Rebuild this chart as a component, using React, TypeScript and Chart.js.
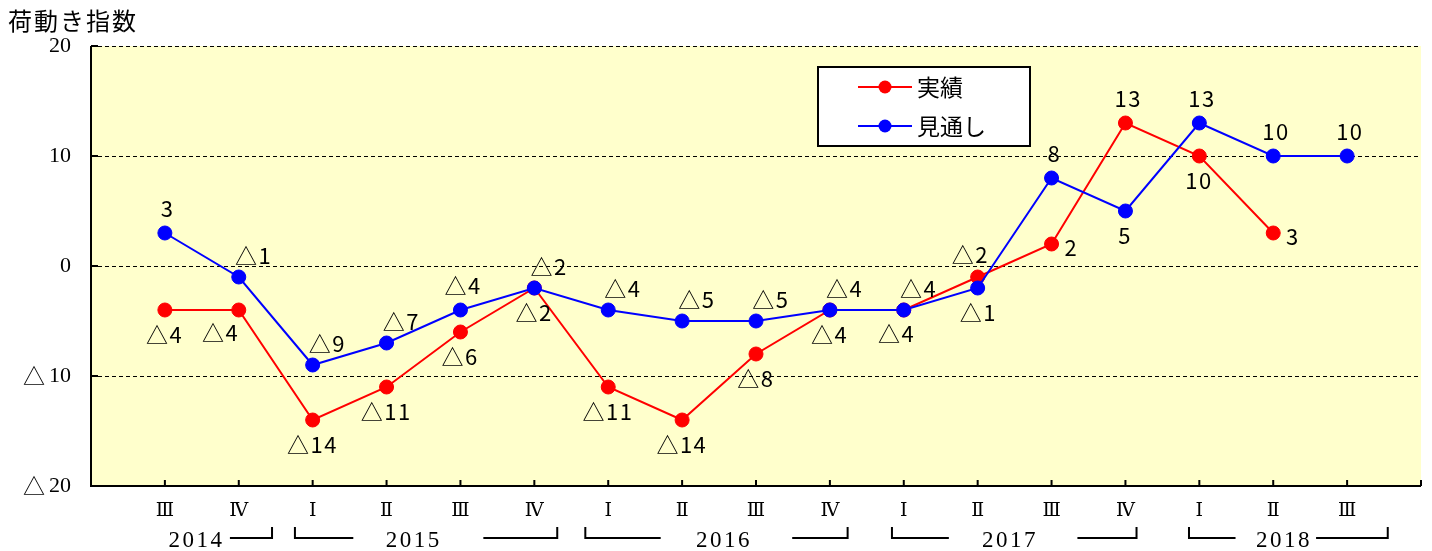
import React, { useEffect, useRef } from 'react';
import { Chart, registerables } from 'chart.js';

Chart.register(...registerables);

// ---- data ----
const title = '荷動き指数';
const categories = ['Ⅲ', 'Ⅳ', 'Ⅰ', 'Ⅱ', 'Ⅲ', 'Ⅳ', 'Ⅰ', 'Ⅱ', 'Ⅲ', 'Ⅳ', 'Ⅰ', 'Ⅱ', 'Ⅲ', 'Ⅳ', 'Ⅰ', 'Ⅱ', 'Ⅲ'];
const years = ['2014', '2015', '2016', '2017', '2018'];
const seriesNames = ['実績', '見通し'];
const actual: (number | null)[] = [-4, -4, -14, -11, -6, -2, -11, -14, -8, -4, -4, -1, 2, 13, 10, 3, null];
const outlook: (number | null)[] = [3, -1, -9, -7, -4, -2, -4, -5, -5, -4, -4, -2, 8, 5, 13, 10, 10];
const yTicks = [-20, -10, 0, 10, 20];

// ---- label placement codes (relative to the point) ----
const actualLabelPos = ['b', 'bl', 'b', 'b', 'b', 'b', 'b', 'b', 'b', 'b', 'bs', 'bb', 'r', 'a', 'b', 'r', ''];
const outlookLabelPos = ['a', 'ar', 'ar', 'ar', 'a', 'ar', 'ar', 'ar', 'ar', 'ar', 'ar', 'aa', 'a', 'b', 'a', 'a', 'a'];
const OFFSETS: Record<string, [number, number]> = {
  a: [2, -24], ar: [14, -21], aa: [-8, -33], b: [-1, 25], bl: [-19, 23], bs: [-8, 24], bb: [0, 36], r: [19, 4],
};

// year label layout in x-axis units: text centre, left bracket [x1,x2], right bracket [x1,x2]
const yearLayout: { at: number; left: [number, number] | null; right: [number, number] }[] = [
  { at: 1.41, left: null, right: [1.88, 2.45] },
  { at: 4.35, left: [2.76, 3.55], right: [5.31, 6.31] },
  { at: 8.55, left: [6.69, 7.71], right: [9.49, 10.24] },
  { at: 12.42, left: [10.84, 11.61], right: [13.35, 14.15] },
  { at: 16.13, left: [14.86, 15.49], right: [16.58, 17.55] },
];

const RED = '#FF0000';
const BLUE = '#0000FF';
const SERIF = '"Liberation Serif", serif';
const ROMAN = '"DejaVu Serif", "Noto Sans CJK JP", serif';
const CJK = '"Noto Sans CJK JP", sans-serif';

const fmt = (v: number) => (v < 0 ? '△' + Math.abs(v) : String(v));

const toPoints = (arr: (number | null)[]) =>
  arr.map((v, i) => (v === null ? null : { x: i + 1, y: v })).filter((p) => p !== null) as { x: number; y: number }[];

const decor = {
  id: 'decor',
  beforeDraw(chart: any) {
    const { ctx, chartArea: a, scales } = chart;
    const y = scales.y;
    ctx.save();
    ctx.fillStyle = '#FFFFCC';
    ctx.fillRect(a.left, a.top, a.right - a.left, a.bottom - a.top);
    ctx.strokeStyle = '#000';
    ctx.lineWidth = 1;
    ctx.setLineDash([4, 3]);
    yTicks.forEach((v) => {
      if (v === -20) return;
      const py = Math.round(y.getPixelForValue(v)) + 0.5;
      ctx.beginPath();
      ctx.moveTo(a.left, py);
      ctx.lineTo(a.right, py);
      ctx.stroke();
    });
    ctx.setLineDash([]);
    ctx.restore();
  },
  beforeDatasetsDraw(chart: any) {
    const { ctx, chartArea: a, scales } = chart;
    const x = scales.x;
    const y = scales.y;
    ctx.save();
    ctx.strokeStyle = '#000';
    ctx.lineWidth = 2;
    // axes
    ctx.beginPath();
    ctx.moveTo(a.left, a.top);
    ctx.lineTo(a.left, a.bottom);
    ctx.lineTo(a.right, a.bottom);
    ctx.stroke();
    // inward ticks
    ctx.beginPath();
    yTicks.forEach((v) => {
      if (v === -20) return;
      const py = y.getPixelForValue(v);
      ctx.moveTo(a.left, py);
      ctx.lineTo(a.left + 7, py);
    });
    for (let i = 1; i <= categories.length + 1; i++) {
      const px = x.getPixelForValue(i);
      ctx.moveTo(px, a.bottom);
      ctx.lineTo(px, a.bottom - 6);
    }
    ctx.stroke();
    // y tick labels: triangle in CJK font, digits in serif
    ctx.fillStyle = '#000';
    ctx.textBaseline = 'middle';
    ctx.textAlign = 'right';
    const rx = a.left - 20;
    yTicks.forEach((v) => {
      const py = y.getPixelForValue(v);
      const digits = String(Math.abs(v));
      ctx.font = '22px ' + SERIF;
      const w = ctx.measureText(digits).width;
      ctx.fillText(digits, rx, py);
      if (v < 0) {
        ctx.font = '22px ' + CJK;
        ctx.fillText('△', rx - w - 4, py);
      }
    });
    ctx.restore();
  },
  afterDatasetsDraw(chart: any) {
    const { ctx, scales } = chart;
    const x = scales.x;
    const y = scales.y;
    ctx.save();
    ctx.fillStyle = '#000';
    ctx.font = '22px ' + CJK;
    (ctx as any).letterSpacing = '1.5px';
    ctx.textAlign = 'center';
    ctx.textBaseline = 'middle';
    const drawLabels = (arr: (number | null)[], pos: string[]) => {
      arr.forEach((v, i) => {
        if (v === null || !pos[i]) return;
        const [dx, dy] = OFFSETS[pos[i]];
        ctx.fillText(fmt(v), x.getPixelForValue(i + 1) + dx + 0.75, y.getPixelForValue(v) + dy);
      });
    };
    drawLabels(actual, actualLabelPos);
    drawLabels(outlook, outlookLabelPos);
    ctx.restore();
  },
  afterDraw(chart: any) {
    const { ctx, scales } = chart;
    const x = scales.x;
    ctx.save();
    // title
    ctx.fillStyle = '#000';
    ctx.font = '24px ' + CJK;
    (ctx as any).letterSpacing = '2px';
    ctx.textAlign = 'left';
    ctx.textBaseline = 'middle';
    ctx.fillText(title, 8, 21);
    // years
    ctx.font = '23px ' + SERIF;
    (ctx as any).letterSpacing = '2.5px';
    ctx.textAlign = 'center';
    years.forEach((yr, i) => {
      ctx.fillText(yr, x.getPixelForValue(yearLayout[i].at) + 1.25, 541);
    });
    (ctx as any).letterSpacing = '0px';
    ctx.strokeStyle = '#000';
    ctx.lineWidth = 2;
    const hy = 538;
    const vt = 527;
    yearLayout.forEach((l) => {
      ctx.beginPath();
      if (l.left) {
        const x1 = x.getPixelForValue(l.left[0]);
        const x2 = x.getPixelForValue(l.left[1]);
        ctx.moveTo(x1, vt);
        ctx.lineTo(x1, hy);
        ctx.lineTo(x2, hy);
      }
      const r1 = x.getPixelForValue(l.right[0]);
      const r2 = x.getPixelForValue(l.right[1]);
      ctx.moveTo(r1, hy);
      ctx.lineTo(r2, hy);
      ctx.lineTo(r2, vt);
      ctx.stroke();
    });
    // legend box
    ctx.fillStyle = '#FFFFFF';
    ctx.fillRect(818, 67, 212, 79);
    ctx.strokeStyle = '#000';
    ctx.lineWidth = 2;
    ctx.strokeRect(818, 67, 212, 79);
    const rows: [string, string, number][] = [
      [seriesNames[0], RED, 87],
      [seriesNames[1], BLUE, 126],
    ];
    rows.forEach(([name, col, ry]) => {
      ctx.strokeStyle = col;
      ctx.lineWidth = 2;
      ctx.beginPath();
      ctx.moveTo(858, ry);
      ctx.lineTo(912, ry);
      ctx.stroke();
      ctx.fillStyle = col;
      ctx.beginPath();
      ctx.arc(885, ry, 6.5, 0, Math.PI * 2);
      ctx.fill();
      ctx.fillStyle = '#000';
      ctx.font = '23px ' + CJK;
      ctx.textAlign = 'left';
      ctx.textBaseline = 'middle';
      ctx.fillText(name, 917, ry);
    });
    ctx.restore();
  },
};

export default function App() {
  const ref = useRef<HTMLCanvasElement>(null);
  useEffect(() => {
    if (!ref.current) return;
    const chart = new Chart(ref.current, {
      type: 'line',
      data: {
        datasets: [
          {
            label: seriesNames[0],
            data: toPoints(actual),
            borderColor: RED,
            backgroundColor: RED,
            pointBackgroundColor: RED,
            pointBorderColor: RED,
            borderWidth: 2,
            pointRadius: 7,
            pointBorderWidth: 1,
            order: 1,
          },
          {
            label: seriesNames[1],
            data: toPoints(outlook),
            borderColor: BLUE,
            backgroundColor: BLUE,
            pointBackgroundColor: BLUE,
            pointBorderColor: BLUE,
            borderWidth: 2,
            pointRadius: 7,
            pointBorderWidth: 1,
            order: 0,
          },
        ],
      },
      options: {
        responsive: false,
        animation: false,
        devicePixelRatio: 1,
        layout: { padding: { top: 46, right: 11, left: 0, bottom: 0 } },
        plugins: { legend: { display: false }, tooltip: { enabled: false } },
        scales: {
          x: {
            type: 'linear',
            min: 0,
            max: categories.length + 1,
            afterBuildTicks: (s: any) => {
              s.ticks = categories.map((_, i) => ({ value: i + 1 }));
            },
            afterFit: (s: any) => {
              s.height = 65;
            },
            ticks: {
              autoSkip: false,
              maxRotation: 0,
              padding: 14,
              color: '#000',
              font: { family: ROMAN, size: 19 },
              callback: (v: any) => categories[Number(v) - 1] ?? '',
            },
            grid: { display: false, drawTicks: false },
            border: { display: false },
          },
          y: {
            min: -20,
            max: 20,
            afterBuildTicks: (s: any) => {
              s.ticks = yTicks.map((v) => ({ value: v }));
            },
            afterFit: (s: any) => {
              s.width = 91;
            },
            ticks: { display: false },
            grid: { display: false, drawTicks: false },
            border: { display: false },
          },
        },
      },
      plugins: [decor],
    } as any);
    return () => chart.destroy();
  }, []);
  return (
    <div style={{ position: 'absolute', left: 0, top: 0, width: 1432, height: 551, background: '#fff' }}>
      <canvas ref={ref} width={1432} height={551} style={{ width: '1432px', height: '551px', display: 'block' }} />
    </div>
  );
}
